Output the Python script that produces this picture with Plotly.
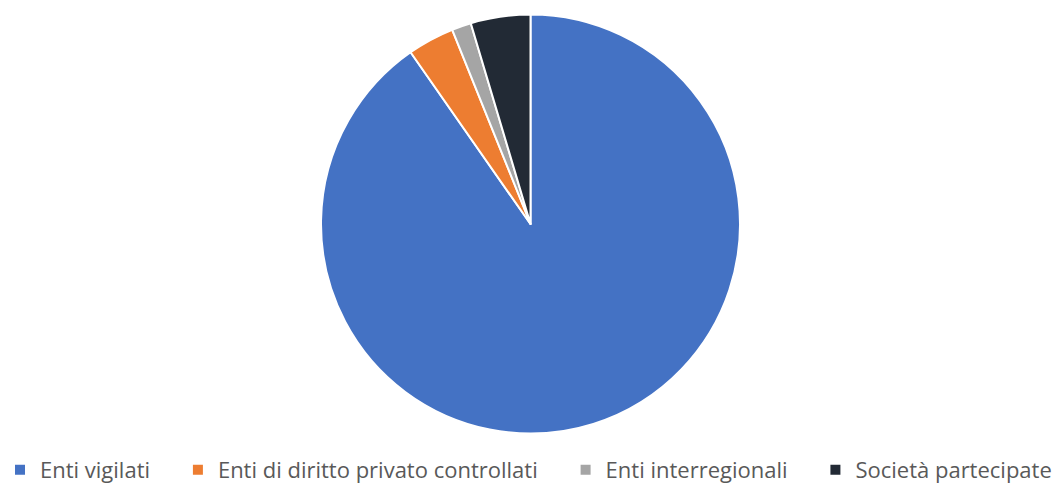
import plotly.graph_objects as go

categories = ["Enti vigilati", "Enti di diritto privato controllati", "Enti interregionali", "Società partecipate"]
values = [90.3, 3.6, 1.5, 4.6]
colors = ["#4472C4", "#ED7D31", "#A5A5A5", "#222A35"]

W, H = 1062, 484
cx, cy, r = 530.5, 224, 209.5

# legend entries padded with non-breaking spaces to reproduce the wider spacing
legend_labels = [c + "\u00a0" * 4 for c in categories[:-1]] + [categories[-1]]

fig = go.Figure(go.Pie(
    labels=legend_labels,
    values=values,
    sort=False,
    direction="clockwise",
    rotation=0,
    textinfo="none",
    hovertext=categories,
    hoverinfo="text+percent",
    marker=dict(colors=colors, line=dict(color="white", width=2)),
    domain=dict(x=[(cx - r) / W, (cx + r) / W], y=[1 - (cy + r) / H, 1 - (cy - r) / H]),
))

fig.update_layout(
    width=W, height=H,
    margin=dict(l=0, r=0, t=0, b=0, autoexpand=False),
    paper_bgcolor="white",
    plot_bgcolor="white",
    showlegend=True,
    legend=dict(
        orientation="h",
        x=0.0, xanchor="left",
        y=-7 / H, yanchor="bottom",
        font=dict(family="Open Sans", size=22, color="#595959"),
        itemwidth=30,
        itemclick=False,
    ),
)

fig.write_html("out.html", config={"displayModeBar": False},
               post_script="document.body.style.margin='0';")
